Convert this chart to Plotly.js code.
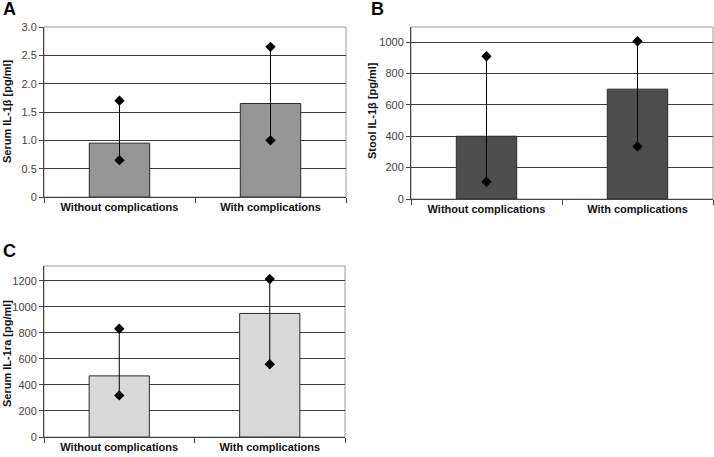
<!DOCTYPE html>
<html>
<head>
<meta charset="utf-8">
<script src="https://cdn.plot.ly/plotly-3.0.1.min.js"></script>
<style>html,body{margin:0;padding:0;background:#fff;}#chart{width:714px;height:457px;}</style>
</head>
<body>
<div id="chart"></div>
<script>
const categories = ["Without complications", "With complications"];

const serumIL1bBar = [0.95, 1.65];
const serumIL1bLow = [0.65, 1.0];
const serumIL1bHigh = [1.7, 2.65];

const stoolIL1bBar = [400, 700];
const stoolIL1bLow = [110, 335];
const stoolIL1bHigh = [910, 1005];

const serumIL1raBar = [470, 950];
const serumIL1raLow = [320, 560];
const serumIL1raHigh = [833, 1215];

const ticksA = [0, 0.5, 1.0, 1.5, 2.0, 2.5, 3.0];
const tickTextA = ["0", "0.5", "1.0", "1.5", "2.0", "2.5", "3.0"];
const ticksB = [0, 200, 400, 600, 800, 1000];
const ticksC = [0, 200, 400, 600, 800, 1000, 1200];

const panelLetters = ["A", "B", "C"];
const yTitles = ["Serum IL-1\u03b2 [pg/ml]", "Stool IL-1\u03b2 [pg/ml]", "Serum IL-1ra [pg/ml]"];

const FONT = "Liberation Sans, Arial, sans-serif";
const W = 714, H = 457;

function rangeTraces(low, high, xa, ya) {
  const xs = [], ys = [];
  categories.forEach((c, i) => { xs.push(c, c, null); ys.push(low[i], high[i], null); });
  return {
    type: "scatter", mode: "lines+markers", x: xs, y: ys, xaxis: xa, yaxis: ya,
    line: {color: "#000", width: 1}, connectgaps: false,
    marker: {symbol: "diamond", size: 8, color: "#000"},
    hoverinfo: "skip", showlegend: false, cliponaxis: false
  };
}
function barTrace(vals, color, xa, ya) {
  return {
    type: "bar", x: categories, y: vals, xaxis: xa, yaxis: ya,
    marker: {color: color, line: {color: "#2b2b2b", width: 1}},
    showlegend: false, hoverinfo: "skip"
  };
}

const data = [
  barTrace(serumIL1bBar, "#969696", "x", "y"),
  rangeTraces(serumIL1bLow, serumIL1bHigh, "x", "y"),
  barTrace(stoolIL1bBar, "#4d4d4d", "x2", "y2"),
  rangeTraces(stoolIL1bLow, stoolIL1bHigh, "x2", "y2"),
  barTrace(serumIL1raBar, "#d9d9d9", "x3", "y3"),
  rangeTraces(serumIL1raLow, serumIL1raHigh, "x3", "y3")
];

function xAxis(domain, anchor) {
  return {
    domain: domain, anchor: anchor, type: "category", range: [-0.5, 1.5],
    showline: true, linecolor: "#444", linewidth: 1,
    ticks: "outside", tickson: "boundaries", ticklen: 5, tickcolor: "#444",
    showgrid: false, zeroline: false, fixedrange: true,
    tickfont: {family: FONT, size: 11, color: "#111", weight: "bold"}
  };
}
function yAxis(domain, anchor, range, vals, text) {
  return {
    domain: domain, anchor: anchor, range: range,
    tickvals: vals, ticktext: text || vals.map(String),
    showline: true, linecolor: "#444", linewidth: 1,
    ticks: "outside", ticklen: 4, tickcolor: "#444",
    showgrid: true, gridcolor: "#3c3c3c", gridwidth: 1, zeroline: false, fixedrange: true,
    tickfont: {family: FONT, size: 11, color: "#444"}
  };
}

const domA = {x: [44 / W, 346 / W], y: [260 / H, 430 / H]};
const domB = {x: [411 / W, 713 / W], y: [258 / H, 430 / H]};
const domC = {x: [44 / W, 345 / W], y: [20 / H, 191 / H]};

const frame = (xr, yr) => ({
  type: "rect", xref: xr + " domain", yref: yr + " domain", x0: 0, x1: 1, y0: 0, y1: 1,
  line: {color: "#9a9a9a", width: 1}, layer: "below"
});

const letterPos = [[9, 9], [377, 9], [9, 251]];
const titlePos = [[7, 111], [372, 111], [7, 354]];

const annotations = [];
panelLetters.forEach((t, i) => annotations.push({
  text: t, xref: "paper", yref: "paper", x: letterPos[i][0] / W, y: 1 - letterPos[i][1] / H,
  xanchor: "center", yanchor: "middle", showarrow: false,
  font: {family: FONT, size: 18, color: "#000", weight: "bold"}
}));
yTitles.forEach((t, i) => annotations.push({
  text: t, xref: "paper", yref: "paper", x: titlePos[i][0] / W, y: 1 - titlePos[i][1] / H,
  xanchor: "center", yanchor: "middle", showarrow: false, textangle: -90,
  font: {family: FONT, size: 11, color: "#111", weight: "bold"}
}));

const layout = {
  width: W, height: H, margin: {l: 0, r: 0, t: 0, b: 0},
  paper_bgcolor: "#fff", plot_bgcolor: "#fff",
  bargap: 0.6, showlegend: false,
  xaxis: xAxis(domA.x, "y"),
  yaxis: yAxis(domA.y, "x", [0, 3], ticksA, tickTextA),
  xaxis2: xAxis(domB.x, "y2"),
  yaxis2: yAxis(domB.y, "x2", [0, 1096], ticksB),
  xaxis3: xAxis(domC.x, "y3"),
  yaxis3: yAxis(domC.y, "x3", [0, 1315], ticksC),
  shapes: [frame("x", "y"), frame("x2", "y2"), frame("x3", "y3")],
  annotations: annotations
};

Plotly.newPlot("chart", data, layout, {displayModeBar: false, staticPlot: true});
</script>
</body>
</html>
